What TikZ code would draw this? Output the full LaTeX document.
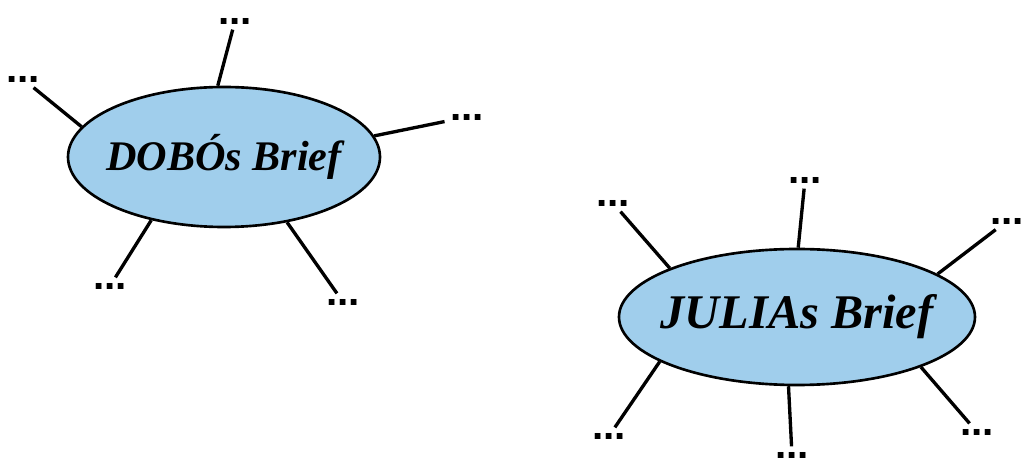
\documentclass[tikz,border=0pt]{standalone}
\usepackage{fontspec}
\setmainfont{Liberation Serif}
\newfontfamily\pontosfont{Liberation Sans}
\usetikzlibrary{shapes.geometric}
\definecolor{azulcarta}{RGB}{160,206,236}

\begin{document}
\begin{tikzpicture}[
    carta/.style={ellipse, draw, line width=1.5pt, fill=azulcarta, inner sep=0pt,
                  font=\bfseries\itshape},
    pontos/.style={font=\pontosfont\fontsize{23}{25}\selectfont\bfseries, inner sep=3pt},
    raio/.style={line width=1.9pt}
]
        \useasboundingbox (0, 0) rectangle (20.48, 9.32);

        % Carta do Dobo
        \node[carta, minimum width=6.24cm, minimum height=2.8cm] (dobo) at (4.48, 6.18)
            {\makebox[0pt]{\fontsize{24}{27}\selectfont DOBÓs Brief}};
        \node[pontos] (d1) at (4.70, 8.90) {...};
        \node[pontos] (d2) at (0.46, 7.74) {...};
        \node[pontos] (d3) at (9.34, 6.98) {...};
        \node[pontos] (d4) at (2.20, 3.60) {...};
        \node[pontos] (d5) at (6.86, 3.28) {...};
        \draw[raio] (dobo.95) -- (d1);
        \draw[raio] (dobo.168) -- (d2);
        \draw[raio] (dobo.8) -- (d3);
        \draw[raio] (dobo.221) -- (d4);
        \draw[raio] (dobo.314) -- (d5);

        % Carta da Julia
        \node[carta, minimum width=7.12cm, minimum height=2.72cm] (julia) at (15.94, 2.98)
            {\makebox[0pt]{\fontsize{27.5}{30}\selectfont JULIAs Brief}};
        \node[pontos] (j1) at (12.26, 5.26) {...};
        \node[pontos] (j2) at (16.10, 5.72) {...};
        \node[pontos] (j3) at (20.14, 4.90) {...};
        \node[pontos] (j4) at (12.18, 0.60) {...};
        \node[pontos] (j5) at (15.84, 0.22) {...};
        \node[pontos] (j6) at (19.54, 0.68) {...};
        \draw[raio] (julia.159) -- (j1);
        \draw[raio] (julia.89) -- (j2);
        \draw[raio] (julia.17) -- (j3);
        \draw[raio] (julia.198) -- (j4);
        \draw[raio] (julia.263) -- (j5);
        \draw[raio] (julia.338) -- (j6);

    \end{tikzpicture}
\end{document}
